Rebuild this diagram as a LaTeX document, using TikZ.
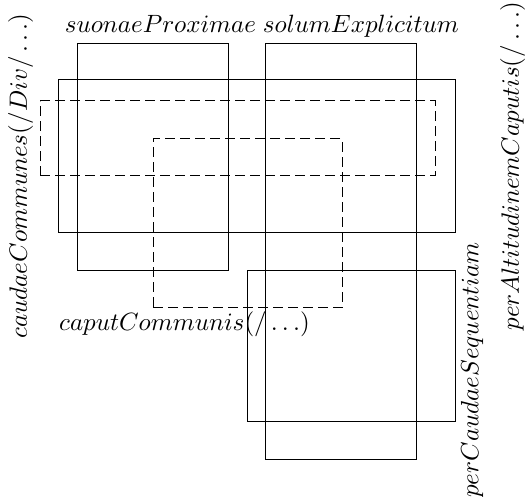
\documentclass[tikz,border=0pt]{standalone}
\usetikzlibrary{positioning}
\begin{document}
\begin{tikzpicture}[x=0.4pt,y=-0.4pt,
  frame/.style={draw, line width=0.4pt, inner sep=0pt, outer sep=0pt},
  dashframe/.style={frame, dash pattern=on 4pt off 2pt},
  lbl/.style={inner sep=0pt, outer sep=0pt},
  vlbl/.style={lbl, rotate=90}]
  \useasboundingbox (0,0) rectangle (525,497);

  % solid frames
  \node[frame, minimum width=151*0.4pt, minimum height=227*0.4pt] (suonae) at (152.5,157.5) {};
  \node[frame, minimum width=151*0.4pt, minimum height=415*0.4pt] (solum) at (340.5,251.5) {};
  \node[frame, minimum width=397*0.4pt, minimum height=153*0.4pt] (altitudo) at (256.5,156.5) {};
  \node[frame, minimum width=208*0.4pt, minimum height=151*0.4pt] (sequentia) at (351,346.5) {};

  % dashed frames
  \node[dashframe, minimum width=395*0.4pt, minimum height=75*0.4pt] (caudae) at (237.5,138.5) {};
  \node[dashframe, minimum width=189*0.4pt, minimum height=169*0.4pt] (caput) at (247.5,223.5) {};

  % labels
  \node[lbl, anchor=base] (lsuonae) at (160.5,33) {$suonaeProximae$};
  \node[lbl, anchor=base] (lsolum) at (361,33) {$solumExplicitum$};
  \node[lbl, anchor=base] (lcaput) at (184.5,331) {$caputCommunis(/\ldots)$};
  \node[vlbl] (lcaudae) at (20.5,176) {$caudaeCommunes(/Div/\ldots)$};
  \node[vlbl] (laltitudo) at (512.5,166) {$perAltitudinemCaputis(/\ldots)$};
  \node[vlbl] (lsequentia) at (472,370) {$perCaudaeSequentiam$};
\end{tikzpicture}
\end{document}
